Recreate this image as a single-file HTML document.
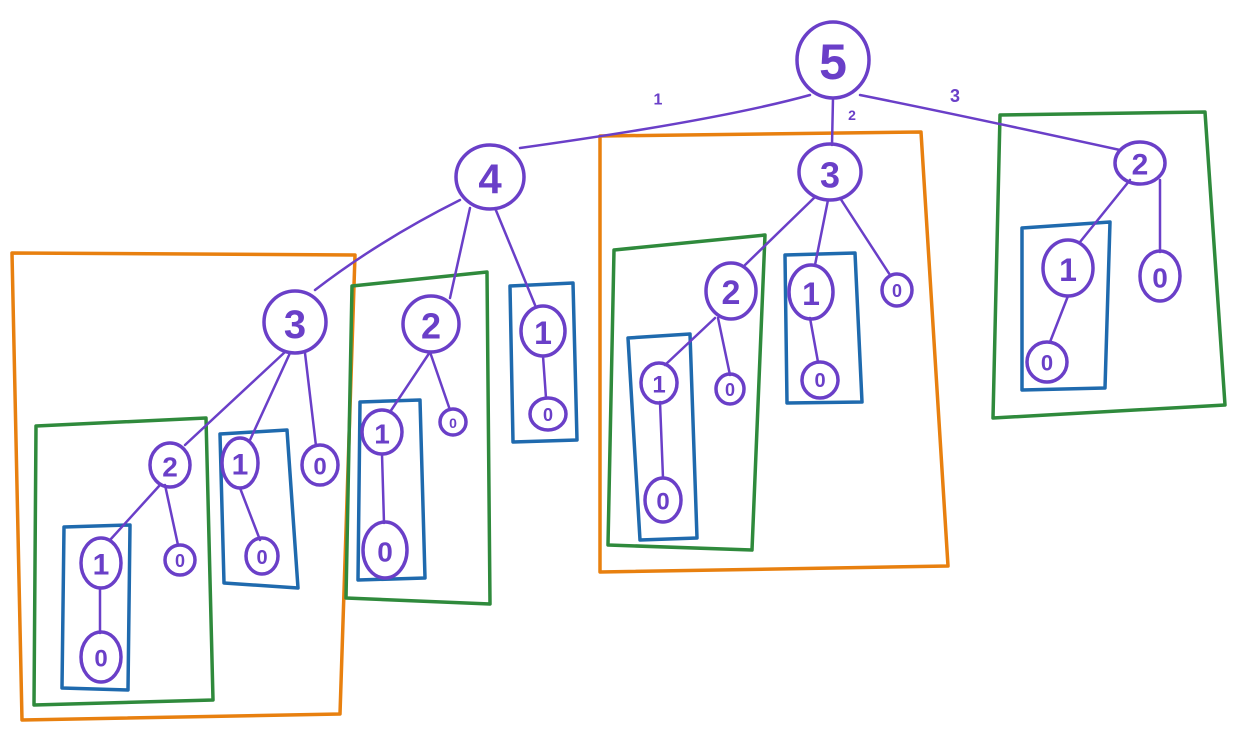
<!DOCTYPE html>
<html><head><meta charset="utf-8"><style>
html,body{margin:0;padding:0;background:#fff;}
svg{display:block}
text{font-family:"Liberation Sans",sans-serif;fill:#6a3fc8;text-anchor:middle;dominant-baseline:central;font-weight:bold}
</style></head><body>
<svg width="1236" height="738" viewBox="0 0 1236 738">
<g fill="none" stroke-width="3.5" stroke-linejoin="round" stroke-linecap="round">
<g stroke="#e8800f">
<path d="M12 253 L355 255 L340 714 L22 720 Z"/>
<path d="M600 136 L921 132 L948 566 L600 572 Z"/>
</g>
<g stroke="#2f8a3c">
<path d="M36 426 L206 418 L213 700 L34 705 Z"/>
<path d="M352 286 L487 272 L490 604 L346 598 Z"/>
<path d="M614 250 L765 235 L752 550 L608 545 Z"/>
<path d="M1000 115 L1205 112 L1225 405 L993 418 Z"/>
</g>
<g stroke="#1f6aae">
<path d="M64 527 L130 525 L128 690 L62 688 Z"/>
<path d="M220 434 L287 430 L298 588 L224 583 Z"/>
<path d="M360 402 L420 400 L425 578 L358 580 Z"/>
<path d="M510 286 L573 283 L577 440 L513 442 Z"/>
<path d="M628 338 L690 334 L697 538 L640 540 Z"/>
<path d="M785 255 L855 253 L862 402 L787 403 Z"/>
<path d="M1022 228 L1110 222 L1105 388 L1022 390 Z"/>
</g>
<g stroke="#6a3fc8" stroke-width="2.5">
<path d="M810 95 Q720 120 520 148"/>
<path d="M833 98 L832 145"/>
<path d="M860 95 Q960 115 1120 150"/>
<path d="M460 200 Q380 240 315 290"/>
<path d="M470 208 L450 298"/>
<path d="M495 208 L535 305"/>
<path d="M815 197 L745 265"/>
<path d="M828 200 L815 265"/>
<path d="M840 198 L890 275"/>
<path d="M1130 180 L1080 242"/>
<path d="M1160 180 L1160 252"/>
<path d="M1068 296 L1050 342"/>
<path d="M285 352 L185 445"/>
<path d="M290 353 L250 440"/>
<path d="M305 353 L316 446"/>
<path d="M160 485 L110 540"/>
<path d="M165 485 L178 545"/>
<path d="M240 488 L260 540"/>
<path d="M100 588 L100 633"/>
<path d="M430 352 L390 412"/>
<path d="M430 352 L450 410"/>
<path d="M382 454 L384 523"/>
<path d="M543 356 L546 398"/>
<path d="M715 318 L665 365"/>
<path d="M718 318 L730 375"/>
<path d="M810 318 L818 362"/>
<path d="M660 402 L663 478"/>
</g>
<g stroke="#6a3fc8" stroke-width="3.5">
<ellipse cx="833" cy="60" rx="36" ry="38"/>
<ellipse cx="490" cy="177" rx="34" ry="32"/>
<ellipse cx="830" cy="172" rx="31" ry="28"/>
<ellipse cx="1140" cy="163" rx="25" ry="21"/>
<ellipse cx="295" cy="322" rx="31" ry="31"/>
<ellipse cx="431" cy="324" rx="28" ry="28"/>
<ellipse cx="543" cy="331" rx="22" ry="25"/>
<ellipse cx="170" cy="465" rx="20" ry="22"/>
<ellipse cx="240" cy="463" rx="18" ry="25"/>
<ellipse cx="320" cy="465" rx="18" ry="20"/>
<ellipse cx="101" cy="563" rx="20" ry="25"/>
<ellipse cx="180" cy="560" rx="15" ry="15"/>
<ellipse cx="101" cy="657" rx="20" ry="25"/>
<ellipse cx="262" cy="556" rx="16" ry="18"/>
<ellipse cx="382" cy="432" rx="20" ry="22"/>
<ellipse cx="453" cy="422" rx="13" ry="13"/>
<ellipse cx="385" cy="550" rx="22" ry="28"/>
<ellipse cx="548" cy="414" rx="18" ry="16"/>
<ellipse cx="731" cy="291" rx="25" ry="28"/>
<ellipse cx="811" cy="292" rx="22" ry="27"/>
<ellipse cx="897" cy="290" rx="15" ry="16"/>
<ellipse cx="659" cy="383" rx="18" ry="20"/>
<ellipse cx="730" cy="389" rx="14" ry="15"/>
<ellipse cx="820" cy="380" rx="18" ry="18"/>
<ellipse cx="663" cy="500" rx="18" ry="22"/>
<ellipse cx="1068" cy="268" rx="25" ry="28"/>
<ellipse cx="1160" cy="276" rx="20" ry="25"/>
<ellipse cx="1047" cy="362" rx="20" ry="20"/>
</g>
</g>
<text x="833" y="62" font-size="50">5</text>
<text x="490" y="179" font-size="42">4</text>
<text x="830" y="175" font-size="36">3</text>
<text x="1140" y="165" font-size="30">2</text>
<text x="295" y="325" font-size="40">3</text>
<text x="431" y="326" font-size="36">2</text>
<text x="543" y="333" font-size="32">1</text>
<text x="170" y="467" font-size="28">2</text>
<text x="240" y="465" font-size="30">1</text>
<text x="320" y="467" font-size="24">0</text>
<text x="101" y="565" font-size="30">1</text>
<text x="180" y="561" font-size="18">0</text>
<text x="101" y="659" font-size="24">0</text>
<text x="262" y="558" font-size="20">0</text>
<text x="382" y="434" font-size="28">1</text>
<text x="453" y="423" font-size="14">0</text>
<text x="385" y="552" font-size="28">0</text>
<text x="548" y="415" font-size="18">0</text>
<text x="731" y="293" font-size="34">2</text>
<text x="811" y="294" font-size="32">1</text>
<text x="897" y="291" font-size="18">0</text>
<text x="659" y="385" font-size="24">1</text>
<text x="730" y="390" font-size="18">0</text>
<text x="820" y="381" font-size="20">0</text>
<text x="663" y="502" font-size="24">0</text>
<text x="1068" y="270" font-size="32">1</text>
<text x="1160" y="278" font-size="28">0</text>
<text x="1047" y="363" font-size="22">0</text>
<text x="658" y="100" font-size="16">1</text>
<text x="852" y="115" font-size="14">2</text>
<text x="955" y="96" font-size="18">3</text>
</svg>
</body></html>
